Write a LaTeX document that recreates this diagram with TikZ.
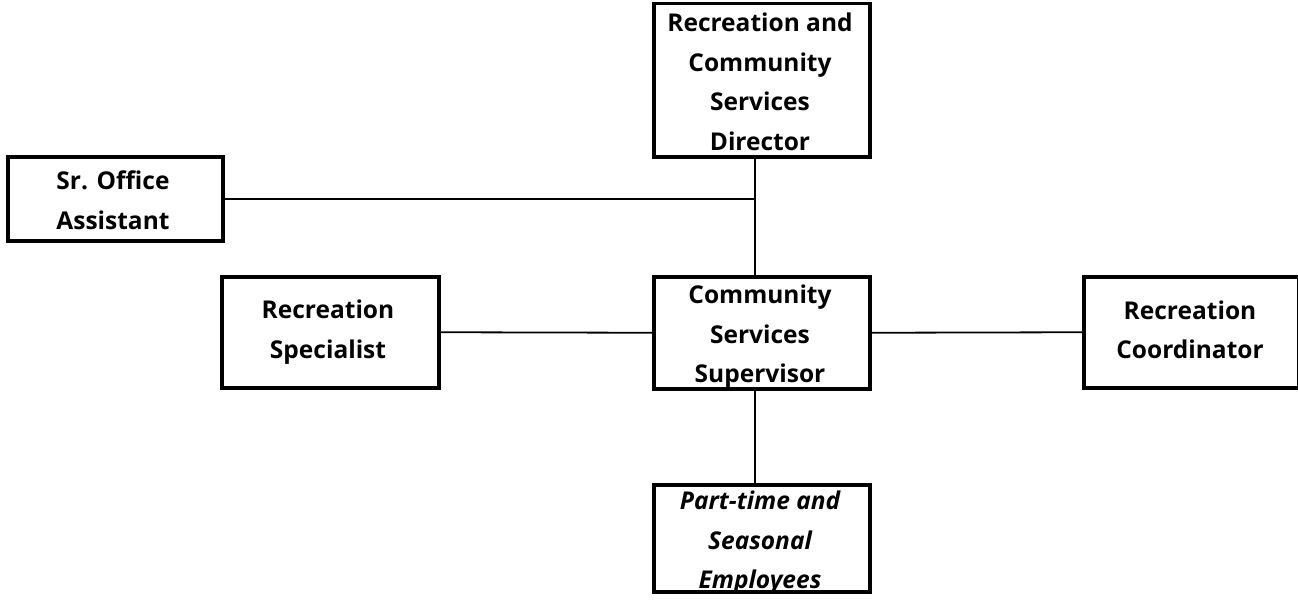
\documentclass[tikz,border=0pt]{standalone}
\usepackage{fontspec}
\setmainfont{Open Sans}[Ligatures=NoCommon]
\begin{document}
\begin{tikzpicture}[x=1pt, y=-1pt,
  box/.style={draw=black, line width=3.5pt, inner sep=0pt},
  link/.style={draw=black, line width=1.8pt},
  lbl/.style={align=center, inner sep=0pt, font=\fontsize{24.5}{39.5}\selectfont\bfseries},
  ilbl/.style={lbl, font=\fontsize{24.5}{39.5}\selectfont\bfseries\itshape}]
\useasboundingbox (0,0) rectangle (1298,602);

% titles (set first, so the frames lie over any overhanging letters)
\node[lbl] (dirT) at (760,82) {Recreation and\\Community\\Services\\Director};
\node[lbl] (srT) at (113,200) {Sr. Office\\Assistant};
\node[lbl] (specT) at (328,332) {Recreation\\Specialist};
\node[lbl] (supT) at (760,337) {Community\\Services\\Supervisor};
\node[lbl] (coordT) at (1190,330) {Recreation\\Coordinator};
\node[ilbl] (partT) at (760,543) {Part-time and\\Seasonal\\Employees};

% frames, given by their top left corners
\node[box, minimum width=216pt, minimum height=153pt, anchor=north west] (dir) at (652,2) {};
\node[box, minimum width=215pt, minimum height=84pt, anchor=north west] (sr) at (6,155) {};
\node[box, minimum width=217pt, minimum height=111pt, anchor=north west] (spec) at (220,275) {};
\node[box, minimum width=216pt, minimum height=112pt, anchor=north west] (sup) at (652,275) {};
\node[box, minimum width=215pt, minimum height=111pt, anchor=north west] (coord) at (1082,275) {};
\node[box, minimum width=216pt, minimum height=107pt, anchor=north west] (part) at (652,483) {};

% reporting lines
\coordinate (spine) at (755,0);
\draw[link] (dir.south -| spine) -- (sup.north -| spine);
\draw[link] (sup.south -| spine) -- (part.north -| spine);
\draw[link] (sr.east) -- (sr.east -| spine);
\draw[link] (spec.east) -- (sup.west);
\draw[link] (sup.east) -- (coord.west);
\end{tikzpicture}
\end{document}
